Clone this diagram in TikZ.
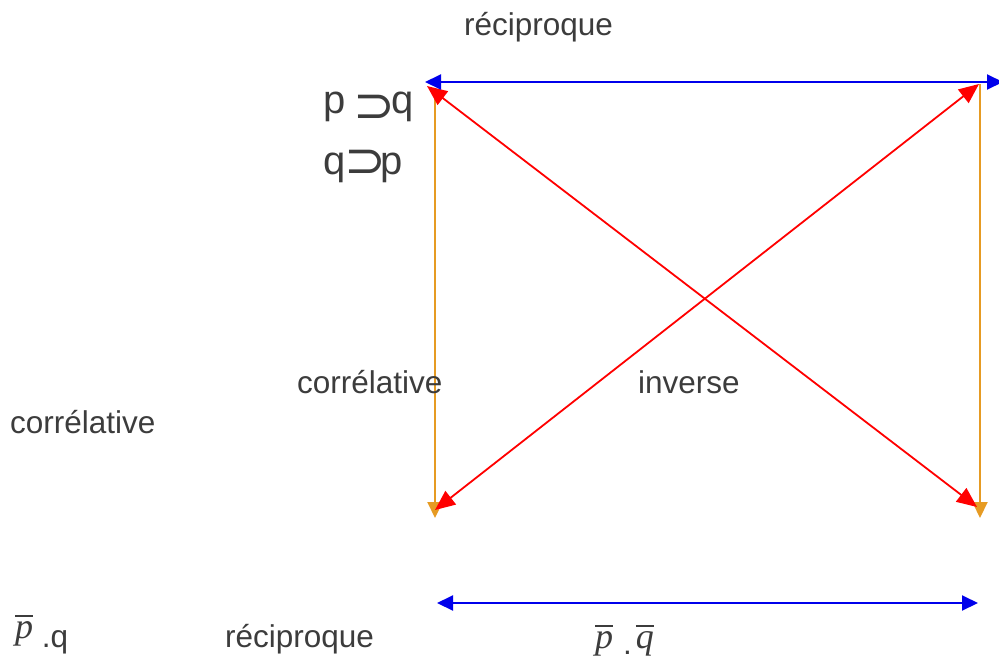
\documentclass[tikz,border=0pt]{standalone}
\usepackage{fontspec}
\setmainfont{Liberation Sans}
\newfontfamily\tms{Liberation Serif}
\newfontfamily\djv{DejaVu Sans}
\usetikzlibrary{arrows.meta}
\definecolor{txtc}{RGB}{60,60,60}
\definecolor{blu}{RGB}{0,0,235}
\definecolor{rd}{RGB}{255,0,0}
\definecolor{orng}{RGB}{230,155,35}
\newcommand\ovl[2][4pt]{\leavevmode\vbox{\hrule height 2pt\kern#1\hbox{#2}}}
\newcommand\spset{{\djv\fontsize{50}{50}\selectfont ⊃}}
\newcommand\itl{\fontsize{36}{40}\selectfont\tms\itshape}
\begin{document}
\begin{tikzpicture}[x=1pt,y=-1pt,
  lbl/.style={anchor=base west,inner sep=0pt,text=txtc,font=\fontsize{31.5}{36}\selectfont},
  big/.style={anchor=base west,inner sep=0pt,text=txtc,font=\fontsize{40}{46}\selectfont},
  bluearr/.style={draw=blu,line width=2pt,{Triangle[length=16pt,width=15pt]}-{Triangle[length=16pt,width=15pt]}},
  redarr/.style={draw=rd,line width=1.8pt,{Triangle[length=20pt,width=17pt]}-{Triangle[length=20pt,width=17pt]}},
  orarr/.style={draw=orng,line width=2pt,-{Triangle[length=16pt,width=15pt]}}]
\useasboundingbox (0,0) rectangle (999,659);
% corner coordinates
\coordinate (bT1) at (425,82);
\coordinate (bT2) at (1003,82);
\coordinate (r1a) at (427,86);
\coordinate (r1b) at (977,507);
\coordinate (r2a) at (435,510);
\coordinate (r2b) at (979,84);
\coordinate (oLa) at (435,90);
\coordinate (oLb) at (435,518);
\coordinate (oRa) at (980,84);
\coordinate (oRb) at (980,518);
\coordinate (bB1) at (437,603);
\coordinate (bB2) at (978,603);
% connectors
\draw[orarr] (oLa) -- (oLb);
\draw[orarr] (oRa) -- (oRb);
\draw[redarr] (r1a) -- (r1b);
\draw[redarr] (r2a) -- (r2b);
\draw[bluearr] (bT1) -- (bT2);
\draw[bluearr] (bB1) -- (bB2);
% texts
\node[lbl] (recT) at (464,35) {réciproque};
\node[big] (pq) at (323,113) {p\hspace{8pt}\raisebox{-9pt}{\spset}\hspace{-4pt}q};
\node[big] (qp) at (323,174) {q\hspace{-1pt}\raisebox{-3pt}{\spset}\hspace{-6pt}p};
\node[lbl] (corM) at (297,393) {corrélative};
\node[lbl] (inv) at (638,393) {inverse};
\node[lbl] (corL) at (10,433) {corrélative};
\node[lbl] (recB) at (225,647) {réciproque};
\node[lbl] (npq) at (15,647) {\raisebox{9pt}{\ovl{\itl p}} .q};
\node[lbl] (npnq) at (595,648) {\ovl{\itl p}\hspace{10pt}\raisebox{-6pt}{.}\hspace{4pt}\ovl{\itl q}};
\end{tikzpicture}
\end{document}
